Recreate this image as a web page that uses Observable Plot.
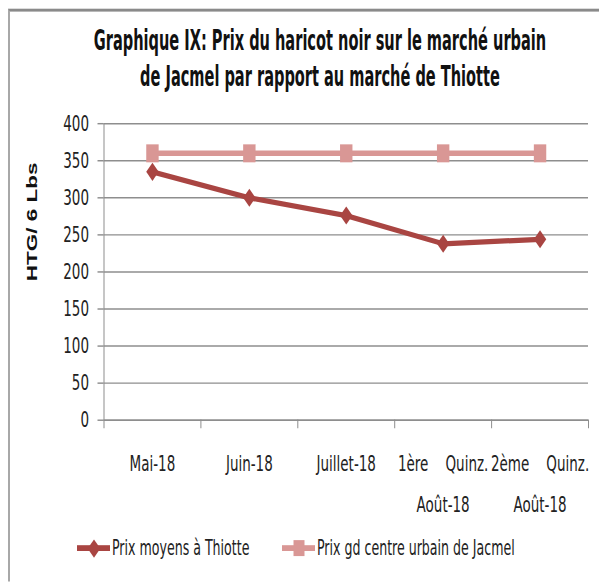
<!DOCTYPE html>
<html>
<head>
<meta charset="utf-8">
<script src="https://cdn.jsdelivr.net/npm/d3@7"></script>
<script src="https://cdn.jsdelivr.net/npm/@observablehq/plot@0.6"></script>
<style>
  html, body { margin: 0; padding: 0; background: #fff; }
  body { width: 599px; height: 582px; overflow: hidden; position: relative; }
  #page { position: absolute; left: 0; top: 0; width: 599px; height: 401.4px; transform: scaleY(1.45); transform-origin: 0 0; overflow: hidden; }
  .narrow { font-family: "DejaVu Sans Condensed", "Liberation Sans Narrow", sans-serif; }
  #frame { position: absolute; left: 8px; top: 6px; width: 700px; height: 600px; border-top: 2px solid #8a8a8a; border-left: 2px solid #a8a8a8; }
  #title { position: absolute; left: 20px; width: 600px; top: 17px; text-align: center; font-weight: bold; font-size: 16.2px; line-height: 20.6px; color: #111; white-space: nowrap; transform: scaleY(1.17); transform-origin: 50% 0; }
  #chart { position: absolute; left: 0; top: 0; }
  #ylabel { position: absolute; left: 32px; top: 153px; transform: translate(-50%, -50%) rotate(-90deg); font: bold 15.5px "Liberation Sans", sans-serif; white-space: nowrap; line-height: 1; color: #111; }
  .lg { position: absolute; top: 367px; height: 22px; display: flex; align-items: center; font-size: 14px; color: #222; white-space: nowrap; }
  .sw { position: relative; width: 33px; height: 22px; margin-right: 2px; }
  .ln { position: absolute; left: 0; right: 0; top: 9.25px; height: 3.5px; }
  .mk { position: absolute; left: 50%; top: 50%; }
  .dia { width: 8.5px; height: 8.5px; transform: translate(-50%, -50%) rotate(45deg); }
  .sq { width: 11px; height: 11px; transform: translate(-50%, -50%); }
</style>
</head>
<body>
<div id="page">
  <div id="frame"></div>
  <div id="title" class="narrow"></div>
  <div id="chart"></div>
  <div id="ylabel"></div>
  <div id="legend"></div>
</div>
<script>
const titleLines = ["Graphique IX: Prix du haricot noir sur le marché urbain", "de Jacmel par rapport au marché de Thiotte"];
const categories = ["Mai-18", "Juin-18", "Juillet-18", "1ère Quinz. Août-18", "2ème Quinz. Août-18"];
const tickLabels = ["Mai-18", "Juin-18", "Juillet-18", "1ère\u00a0\u00a0\u00a0 Quinz.\nAoût-18", "2ème\u00a0\u00a0\u00a0 Quinz.\nAoût-18"];
const thiotte = [335, 300, 276, 238, 244];
const jacmel = [360, 360, 360, 360, 360];
const yTicks = [0, 50, 100, 150, 200, 250, 300, 350, 400];
const yLabel = "HTG/ 6 Lbs";
const seriesNames = ["Prix moyens à Thiotte", "Prix gd centre urbain de Jacmel"];
const colors = ["#a94542", "#d99795"];

document.getElementById("title").innerHTML = titleLines.join("<br>");
document.getElementById("ylabel").textContent = yLabel;

const pos = (d, i) => i + 0.5;
const boundaries = d3.range(categories.length + 1);
const gray = "#8e8e8e";

const chart = Plot.plot({
  width: 599,
  height: 401,
  marginLeft: 103.5,
  marginRight: 11,
  marginTop: 84.8,
  marginBottom: 111.7,
  x: { type: "linear", domain: [0, categories.length], axis: null },
  y: { domain: [0, 400], axis: null },
  style: { fontFamily: '"DejaVu Sans Condensed", "Liberation Sans Narrow", sans-serif', fontSize: "15px", background: "transparent", overflow: "visible" },
  marks: [
    Plot.gridY(yTicks, { stroke: gray, strokeOpacity: 1, strokeWidth: 1 }),
    Plot.axisY({ ticks: yTicks, tickSize: 6, tickPadding: 9, stroke: gray, fill: "#222", label: null, fontSize: 15 }),
    Plot.axisX({ ticks: boundaries, tickSize: 6, tickFormat: () => "", stroke: gray, label: null }),
    Plot.ruleX([0], { stroke: gray }),
    Plot.ruleY([0], { stroke: gray }),
    Plot.text(tickLabels, { x: pos, frameAnchor: "bottom", lineAnchor: "top", dy: 14.7, lineHeight: 1.89, fill: "#222", fontSize: 15 }),
    Plot.line(thiotte, { x: pos, y: d => d, stroke: colors[0], strokeWidth: 3.6 }),
    Plot.dot(thiotte, { x: pos, y: d => d, symbol: "diamond2", r: 5.6, fill: colors[0], stroke: "none" }),
    Plot.line(jacmel, { x: pos, y: d => d, stroke: colors[1], strokeWidth: 3.8 }),
    Plot.dot(jacmel, { x: pos, y: d => d, symbol: "square", r: 7, fill: colors[1], stroke: "none" })
  ]
});
document.getElementById("chart").appendChild(chart);

const legend = document.getElementById("legend");
const legendX = [77, 282];
seriesNames.forEach((name, i) => {
  const item = document.createElement("div");
  item.className = "lg narrow";
  item.style.left = legendX[i] + "px";
  item.innerHTML = `<span class="sw"><span class="ln" style="background:${colors[i]}"></span><span class="mk ${i === 0 ? "dia" : "sq"}" style="background:${colors[i]}"></span></span><span class="tx"></span>`;
  item.querySelector(".tx").textContent = name;
  legend.appendChild(item);
});
</script>
</body>
</html>
